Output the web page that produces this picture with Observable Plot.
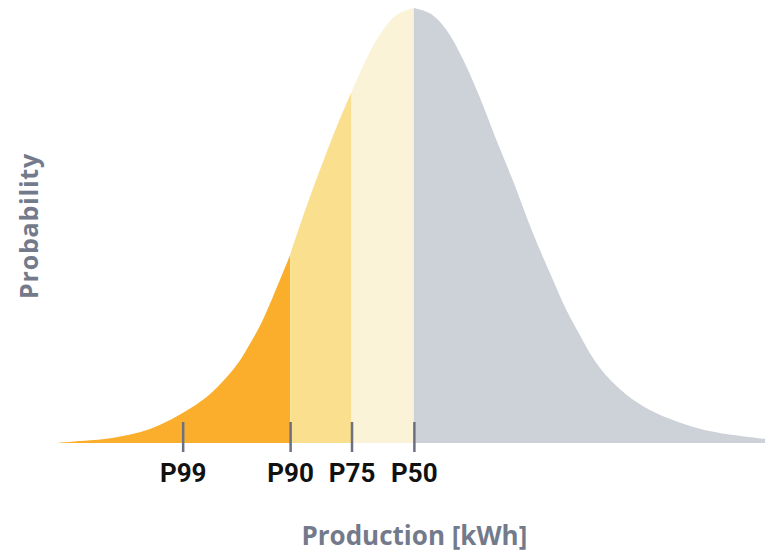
<!DOCTYPE html>
<html>
<head>
<meta charset="utf-8">
<script src="https://cdn.jsdelivr.net/npm/d3@7"></script>
<script src="https://cdn.jsdelivr.net/npm/@observablehq/plot@0.6"></script>
<style>
  html, body { margin: 0; padding: 0; background: #fff; }
  #chart svg { display: block; }
</style>
</head>
<body>
<div id="chart"></div>
<script>
// Production values (kWh)
const production = [628, 652, 673, 694, 715, 735, 759, 784, 805, 819, 829, 840, 853, 871, 886, 902, 919, 935, 950, 965, 982,
  1000, 1018, 1034, 1051, 1069, 1086, 1103, 1124, 1145, 1159, 1173, 1186, 1201, 1222, 1246, 1270, 1295, 1319, 1366];
// Probability density (relative units, ×1e-3 per kWh)
const density = [0, 0.018, 0.032, 0.060, 0.101, 0.166, 0.276, 0.423, 0.607, 0.763, 0.910, 1.085, 1.343, 1.729, 2.124, 2.510, 2.897, 3.228, 3.522, 3.761, 3.936,
  4.0, 3.945, 3.798, 3.531, 3.172, 2.786, 2.418, 1.931, 1.499, 1.223, 0.993, 0.791, 0.616, 0.441, 0.303, 0.211, 0.138, 0.092, 0.037];

const percentileNames = ["P99", "P90", "P75", "P50"];
const percentileValues = [759, 871, 935, 1000];
const bandColors = ["#FBAE2C", "#FAE08E", "#FBF3D7", "#CDD1D8"];

const rows = production.map((x, i) => ({x, y: density[i]}));
const xMin = d3.min(production), xMax = d3.max(production);
const edges = [xMin, ...percentileValues.slice(1), xMax];
const bands = bandColors.map((c, k) => ({
  color: c,
  data: rows.filter(r => r.x >= edges[k] && r.x <= edges[k + 1])
}));

const labelGray = "#737A8B";
const font = "'Open Sans', sans-serif";

const chart = Plot.plot({
  width: 765,
  height: 553,
  marginLeft: 57,
  marginRight: 0,
  marginTop: 8,
  marginBottom: 110,
  x: {domain: [xMin, xMax], axis: null},
  y: {domain: [0, 4.0], axis: null},
  marks: [
    ...bands.map(b => Plot.areaY(b.data, {x: "x", y: "y", fill: b.color, curve: "catmull-rom"})),
    Plot.axisX({
      ticks: percentileValues,
      tickFormat: v => percentileNames[percentileValues.indexOf(v)],
      tickSize: 30,
      tickPadding: 11,
      dy: -21,
      stroke: "#6B7182",
      strokeWidth: 2.5,
      fill: "#111",
      fontSize: 26,
      fontWeight: "bold",
      fontFamily: "Roboto, sans-serif",
      label: null
    }),
    Plot.text(["Production [kWh]"], {
      text: d => d, x: () => percentileValues[3], frameAnchor: "bottom", dy: 101,
      fill: labelGray, fontSize: 26, fontWeight: "bold", fontFamily: font
    }),
    Plot.text(["Probability"], {
      text: d => d, frameAnchor: "left", textAnchor: "middle", dx: -28, rotate: -90,
      fill: labelGray, fontSize: 25, fontWeight: "bold", fontFamily: font
    })
  ]
});
d3.select(chart).selectAll("text").filter(function() { return this.textContent === "Probability"; })
  .attr("letter-spacing", 0.8);
document.getElementById("chart").appendChild(chart);
</script>
</body>
</html>
